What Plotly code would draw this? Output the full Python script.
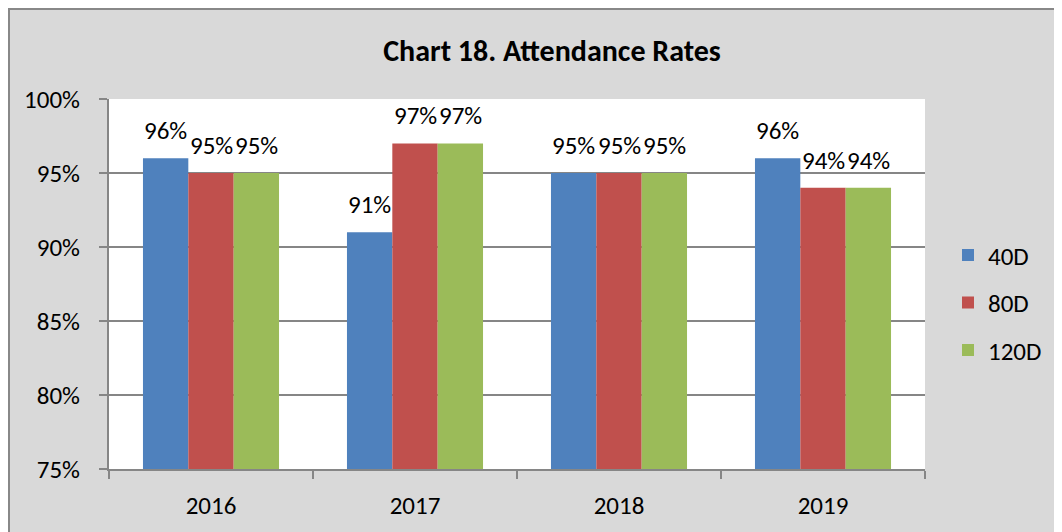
import plotly.graph_objects as go

years = ["2016", "2017", "2018", "2019"]
series_names = ["40D", "80D", "120D"]
values_40d = [0.96, 0.91, 0.95, 0.96]
values_80d = [0.95, 0.97, 0.95, 0.94]
values_120d = [0.95, 0.97, 0.95, 0.94]
colors = ["#4F81BD", "#C0504D", "#9BBB59"]
y_ticks = [0.75, 0.80, 0.85, 0.90, 0.95, 1.00]

FONT = "Calibri, Carlito, Lato, sans-serif"
BARGAP = 0.333
FS = 25

all_series = [values_40d, values_80d, values_120d]

fig = go.Figure()
for i, (name, vals) in enumerate(zip(series_names, all_series)):
    fig.add_trace(go.Bar(
        x=years, y=vals, name=name,
        marker=dict(color=colors[i], line=dict(width=0)),
        legendgroup=name,
    ))

# data labels above the bars, placed through the axis scales
n = len(all_series)
bar_w = (1 - BARGAP) / n
for j, vals in enumerate(all_series):
    for i, v in enumerate(vals):
        fig.add_annotation(
            x=i + (j - (n - 1) / 2) * bar_w, y=v, xref="x", yref="y",
            text=f"{v:.0%}", showarrow=False, yanchor="bottom", xanchor="center",
            yshift=10, font=dict(family=FONT, size=FS, color="black"),
        )

W, H = 1054, 524
L, T = 101, 91
pw, ph = 816, 370
R, B = W - L - pw, H - T - ph

fig.update_layout(
    width=W, height=H,
    margin=dict(l=L, r=R, t=T, b=B, pad=0),
    paper_bgcolor="#D9D9D9", plot_bgcolor="white",
    barmode="group", bargap=BARGAP, bargroupgap=0,
    font=dict(family=FONT, size=FS, color="black"),
    title=dict(text="<b>Chart 18. Attendance Rates</b>", xref="container", x=544 / W,
               xanchor="center", yref="container", y=1 - 42 / H, yanchor="middle",
               font=dict(family=FONT, size=30, color="black")),
    legend=dict(x=(948 - 109) / pw, xanchor="left", y=0.64, yanchor="top",
                bgcolor="rgba(0,0,0,0)", font=dict(size=FS), traceorder="grouped",
                tracegroupgap=12, itemwidth=30),
    showlegend=True,
)
fig.update_xaxes(
    showline=True, linecolor="#868686", linewidth=2,
    ticks="outside", tickson="boundaries", ticklen=8, tickcolor="#868686", tickwidth=2,
    ticklabelstandoff=13, showgrid=False,
)
fig.update_yaxes(
    range=[0.75, 1.0], tickvals=y_ticks, tickformat=".0%",
    showline=True, linecolor="#868686", linewidth=2,
    ticks="outside", ticklen=8, tickcolor="#868686", tickwidth=2,
    showgrid=True, gridcolor="#868686", gridwidth=2,
    ticklabelstandoff=14, zeroline=False,
)
# outer chart border (left and top edges visible)
x_left = (-L + 1) / pw
y_top = 1 + (T - 1) / ph
fig.add_shape(type="path", xref="paper", yref="paper",
              path=f"M {x_left} -1 L {x_left} {y_top} L 2 {y_top}",
              line=dict(color="#888888", width=2))

fig.write_html("out.html")
